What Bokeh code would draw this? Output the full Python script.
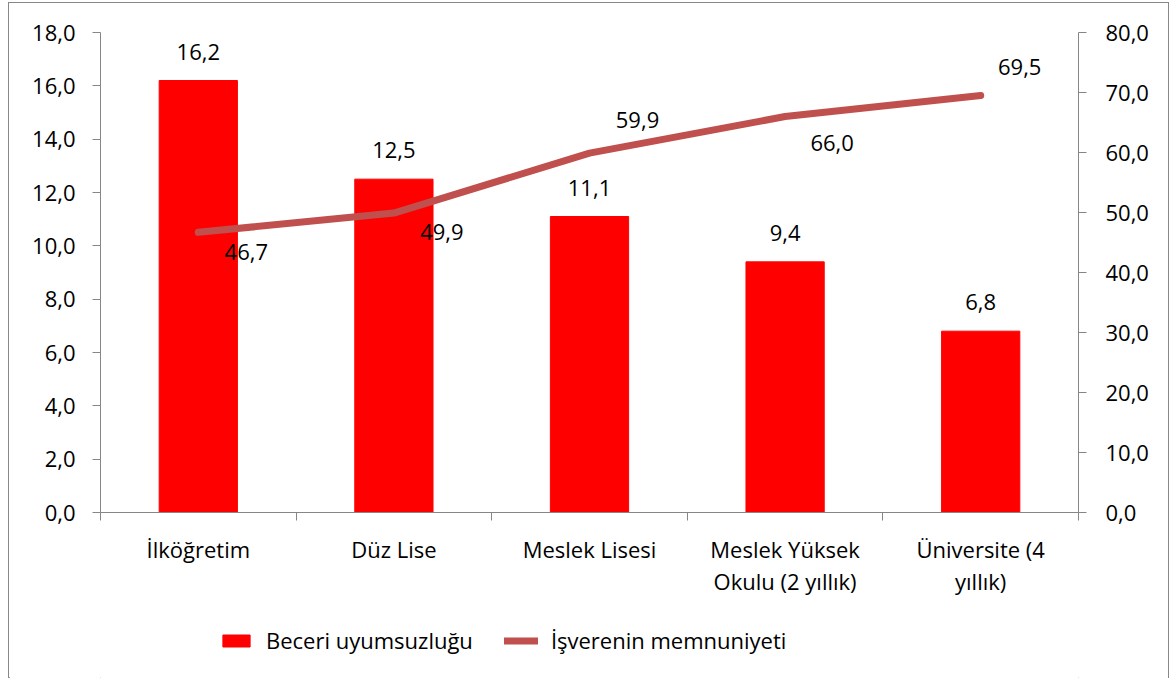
from bokeh.plotting import figure
from bokeh.layouts import column
from bokeh.models import (Range1d, LinearAxis, FixedTicker, Legend, LegendItem,
                          ColumnDataSource, LabelSet)
from bokeh.core.properties import value
from bokeh.embed import file_html
from bokeh.resources import INLINE

# ---- data ----
categories = ["İlköğretim", "Düz Lise", "Meslek Lisesi",
              "Meslek Yüksek\nOkulu (2 yıllık)", "Üniversite (4\nyıllık)"]
skill_mismatch = [16.2, 12.5, 11.1, 9.4, 6.8]           # Beceri uyumsuzluğu (left axis)
employer_satisfaction = [46.7, 49.9, 59.9, 66.0, 69.5]  # İşverenin memnuniyeti (right axis)
left_ticks = [0, 2, 4, 6, 8, 10, 12, 14, 16, 18]
right_ticks = [0, 10, 20, 30, 40, 50, 60, 70, 80]
series_names = ["Beceri uyumsuzluğu", "İşverenin memnuniyeti"]


def fmt(v):
    return f"{v:.1f}".replace(".", ",")


FONT = "Open Sans"
FS = "22px"
AXIS_COLOR = "#868686"
BAR_COLOR = "#FF0000"
LINE_COLOR = "#C0504D"

centers = [i + 0.5 for i in range(len(categories))]
boundaries = [i for i in range(len(categories) + 1)]

p = figure(width=1161, height=609, output_backend="svg", toolbar_location=None,
           x_range=Range1d(0, len(categories)), y_range=Range1d(0, 18),
           min_border_left=91, min_border_right=90, min_border_top=29, min_border_bottom=100,
           background_fill_color="white", border_fill_color="white")
p.outline_line_color = None
p.xgrid.grid_line_color = None
p.ygrid.grid_line_color = None
p.extra_y_ranges = {"right": Range1d(0, 80)}

bar_src = ColumnDataSource(dict(x=centers, top=skill_mismatch,
                                lbl=[fmt(v) for v in skill_mismatch]))
bars = p.vbar(x="x", top="top", width=0.4, source=bar_src,
              fill_color=BAR_COLOR, line_color=BAR_COLOR)

line_src = ColumnDataSource(dict(x=centers, y=employer_satisfaction,
                                 lbl=[fmt(v) for v in employer_satisfaction],
                                 dx=[48, 48, 48, 47, 39],
                                 dy=[-20, -19, 33, -26, 29]))
line = p.line(x="x", y="y", source=line_src, y_range_name="right",
              line_color=LINE_COLOR, line_width=7, line_cap="round", line_join="round")

p.add_layout(LabelSet(x="x", y="top", text="lbl", source=bar_src, y_offset=29,
                      text_align="center", text_baseline="middle",
                      text_font=value(FONT), text_font_size=value(FS), text_color="black"))
p.add_layout(LabelSet(x="x", y="y", text="lbl", source=line_src, y_range_name="right",
                      x_offset="dx", y_offset="dy",
                      text_align="center", text_baseline="middle",
                      text_font=value(FONT), text_font_size=value(FS), text_color="black"))

# left axis
ya = p.yaxis[0]
ya.ticker = FixedTicker(ticks=left_ticks)
ya.major_label_overrides = {t: fmt(t) for t in left_ticks}
ya.axis_line_color = AXIS_COLOR
ya.major_tick_line_color = AXIS_COLOR
ya.major_tick_out = 8
ya.major_tick_in = 0
ya.minor_tick_line_color = None
ya.major_label_standoff = 17
ya.major_label_text_font = FONT
ya.major_label_text_font_size = FS
ya.major_label_text_color = "black"

# right axis
ra = LinearAxis(y_range_name="right", ticker=FixedTicker(ticks=right_ticks))
ra.major_label_overrides = {t: fmt(t) for t in right_ticks}
ra.axis_line_color = AXIS_COLOR
ra.major_tick_line_color = AXIS_COLOR
ra.major_tick_out = 8
ra.major_tick_in = 0
ra.minor_tick_line_color = None
ra.major_label_standoff = 19
ra.major_label_text_font = FONT
ra.major_label_text_font_size = FS
ra.major_label_text_color = "black"
p.add_layout(ra, "right")

# x axis
xa = p.xaxis[0]
xa.ticker = FixedTicker(ticks=centers, minor_ticks=boundaries)
xa.major_label_overrides = {c: lab for c, lab in zip(centers, categories)}
xa.axis_line_color = AXIS_COLOR
xa.major_tick_line_color = None
xa.major_tick_out = 0
xa.major_tick_in = 0
xa.minor_tick_line_color = AXIS_COLOR
xa.minor_tick_out = 8
xa.minor_tick_in = 0
xa.major_label_standoff = 13
xa.major_label_text_font = FONT
xa.major_label_text_font_size = FS
xa.major_label_text_color = "black"
xa.major_label_text_line_height = 1.08

# legend strip: a separate figure whose key glyphs share the series' sources
# (its y-range lies above all data, so only the legend keys are visible)
lg = figure(width=1161, height=67, output_backend="svg", toolbar_location=None,
            x_range=Range1d(0, len(categories)), y_range=Range1d(100, 101),
            x_axis_location=None, y_axis_location=None, min_border=0,
            background_fill_color="white", border_fill_color="white")
lg.outline_line_color = None
lg.xgrid.grid_line_color = None
lg.ygrid.grid_line_color = None
key_bar = lg.vbar(x="x", top="top", width=0.4, source=bar_src,
                  fill_color=BAR_COLOR, line_color=BAR_COLOR)
key_line = lg.line(x="x", y="y", source=line_src, line_color=LINE_COLOR, line_width=7,
                   line_cap="round", line_join="round")
legend = Legend(items=[LegendItem(label=series_names[0], renderers=[key_bar]),
                       LegendItem(label=series_names[1], renderers=[key_line])],
                orientation="horizontal", location=(119, 24),
                border_line_alpha=0, background_fill_alpha=0,
                padding=0, margin=0, spacing=31, label_standoff=13,
                glyph_width=34, glyph_height=15,
                label_text_font=FONT, label_text_font_size=FS, label_text_color="black")
lg.add_layout(legend, "center")

layout = column(p, lg, width=1161, height=676, spacing=0)
layout.styles = {"border": "1px solid #878787"}
layout.margin = (2, 0, 0, 8)

open("out.html", "w").write(file_html(layout, INLINE))
